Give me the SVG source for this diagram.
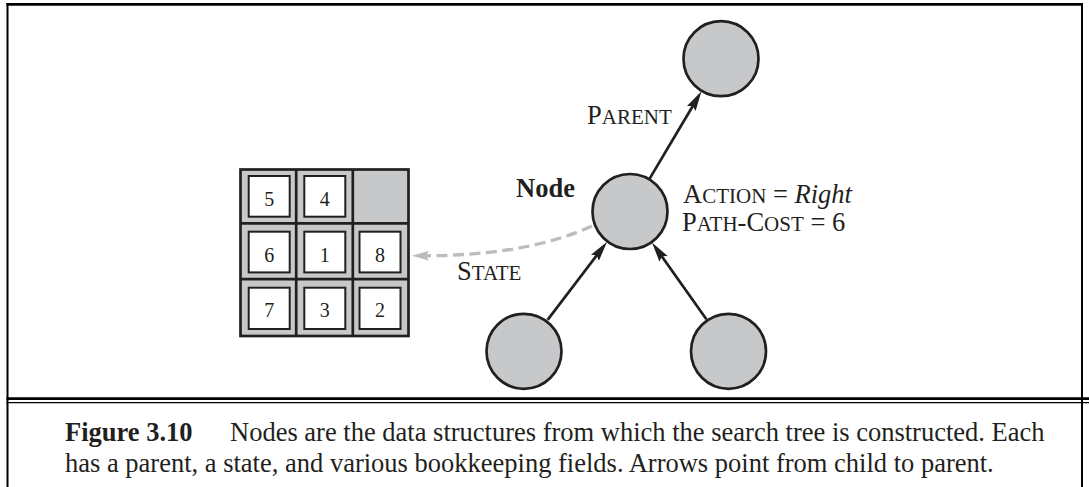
<svg xmlns="http://www.w3.org/2000/svg" width="1089" height="487" viewBox="0 0 1089 487">
<style>
  .frame { stroke: #000; fill: none; }
  .cell { fill: #c7c8ca; stroke: #231f20; stroke-width: 2.7; }
  .gridline { stroke: #231f20; stroke-width: 2.7; }
  .tile { fill: #fff; stroke: #231f20; stroke-width: 2; }
  .digit { font-family: "Liberation Serif", "Times New Roman", serif; font-size: 20px; fill: #231f20; text-anchor: middle; }
  .tnode { fill: #c7c8ca; stroke: #231f20; stroke-width: 2.7; }
  .edge { stroke: #231f20; stroke-width: 2.7; fill: none; }
  .state { stroke: #bcbdc0; stroke-width: 3.3; fill: none; stroke-dasharray: 11 5.5; }
  .lbl { font-family: "Liberation Serif", "Times New Roman", serif; font-size: 26.5px; fill: #231f20; }
  .sc { font-size: 21px; }
  .cap { font-family: "Liberation Serif", "Times New Roman", serif; font-size: 26.5px; fill: #231f20; }
</style>
<defs>
  <marker id="ah" markerUnits="userSpaceOnUse" markerWidth="22" markerHeight="12" refX="12" refY="5" orient="auto">
    <path d="M0,0 L20,5 L0,10 L3,5 z" fill="#231f20"/>
  </marker>
  <marker id="ahg" markerUnits="userSpaceOnUse" markerWidth="20" markerHeight="12" refX="9" refY="5" orient="auto">
    <path d="M0,0 L17,5 L0,10 L3,5 z" fill="#bcbdc0"/>
  </marker>
</defs>

<g id="frame">
  <line class="frame" x1="6.5" y1="4.3" x2="1083" y2="4.3" stroke-width="2.7"/>
  <line class="frame" x1="7.5" y1="3" x2="7.5" y2="487" stroke-width="2"/>
  <line class="frame" x1="1082" y1="3" x2="1082" y2="487" stroke-width="2"/>
  <line class="frame" x1="6.5" y1="398.7" x2="1089" y2="398.7" stroke-width="2.7"/>
  <line class="frame" x1="6.5" y1="402.6" x2="1089" y2="402.6" stroke-width="1.3"/>
</g>

<g id="puzzle">
  <rect class="cell" x="240.5" y="169.5" width="168" height="166.5"/>
  <line class="gridline" x1="296.2" y1="169.5" x2="296.2" y2="336"/>
  <line class="gridline" x1="352.8" y1="169.5" x2="352.8" y2="336"/>
  <line class="gridline" x1="240.5" y1="223.3" x2="408.5" y2="223.3"/>
  <line class="gridline" x1="240.5" y1="279.2" x2="408.5" y2="279.2"/>
  <rect class="tile" x="248.7" y="176" width="41" height="40.7"/>
  <rect class="tile" x="304.3" y="176" width="41" height="40.7"/>
  <rect class="tile" x="248.7" y="231.7" width="41" height="40.7"/>
  <rect class="tile" x="304.3" y="231.7" width="41" height="40.7"/>
  <rect class="tile" x="359.5" y="231.7" width="41" height="40.7"/>
  <rect class="tile" x="248.7" y="287.7" width="41" height="41.3"/>
  <rect class="tile" x="304.3" y="287.7" width="41" height="41.3"/>
  <rect class="tile" x="359.5" y="287.7" width="41" height="41.3"/>
  <text class="digit" x="269.2" y="205.7">5</text>
  <text class="digit" x="324.8" y="205.7">4</text>
  <text class="digit" x="269.2" y="261.7">6</text>
  <text class="digit" x="324.8" y="261.7">1</text>
  <text class="digit" x="380" y="261.7">8</text>
  <text class="digit" x="269.2" y="317">7</text>
  <text class="digit" x="324.8" y="317">3</text>
  <text class="digit" x="380" y="317">2</text>
</g>

<g id="node-parent">
  <circle class="tnode" cx="721" cy="58.7" r="37.5"/>
</g>
<g id="node-main">
  <circle class="tnode" cx="630" cy="211.5" r="37.5"/>
  <text class="lbl" x="516" y="197.3" font-weight="bold" font-size="31">Node</text>
  <text class="lbl" x="683" y="202.7">A<tspan class="sc">CTION</tspan> = <tspan font-style="italic">Right</tspan></text>
  <text class="lbl" x="682" y="231">P<tspan class="sc">ATH</tspan>-C<tspan class="sc">OST</tspan> = 6</text>
</g>
<g id="node-child-left">
  <circle class="tnode" cx="524" cy="351.3" r="37.5"/>
</g>
<g id="node-child-right">
  <circle class="tnode" cx="728.5" cy="351.3" r="37.5"/>
</g>

<g id="connectors">
  <line class="edge" x1="649.5" y1="178.9" x2="697.4" y2="98.2" marker-end="url(#ah)"/>
  <line class="edge" x1="547.6" y1="319.9" x2="602.2" y2="248.2" marker-end="url(#ah)"/>
  <line class="edge" x1="706.4" y1="319.2" x2="656.6" y2="249" marker-end="url(#ah)"/>
  <path class="state" d="M592,226 Q527,256 420,255.8" marker-end="url(#ahg)"/>
  <text class="lbl" x="587" y="123.5">P<tspan class="sc">ARENT</tspan></text>
  <text class="lbl" x="457" y="280">S<tspan class="sc">TATE</tspan></text>
</g>

<g id="caption">
  <text class="cap" x="65" y="440.5"><tspan font-weight="bold">Figure 3.10</tspan></text>
  <text class="cap" x="230" y="440.5">Nodes are the data structures from which the search tree is constructed. Each</text>
  <text class="cap" x="65" y="471.5">has a parent, a state, and various bookkeeping fields. Arrows point from child to parent.</text>
</g>
</svg>
